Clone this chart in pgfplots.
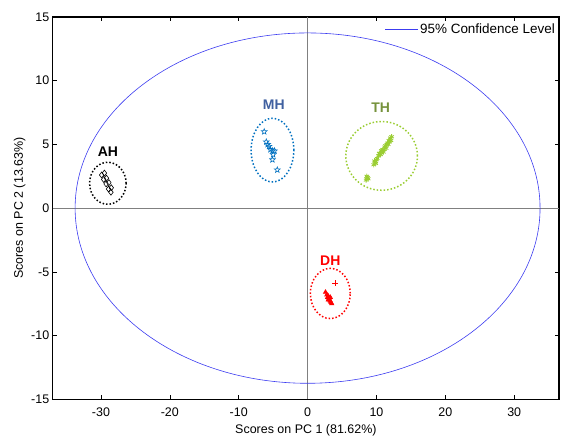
\documentclass[border=0pt]{standalone}
\usepackage{pgfplots}
\pgfplotsset{compat=1.18}
\usepackage{fontspec}
\setmainfont{Liberation Sans}
\definecolor{mhpts}{RGB}{0,112,192}
\definecolor{mhtxt}{RGB}{64,96,160}
\definecolor{thpts}{RGB}{154,205,50}
\definecolor{thtxt}{RGB}{118,146,60}
\definecolor{ellblue}{RGB}{60,60,240}
\pgfdeclareplotmark{ostar}{%
  \pgfpathmoveto{\pgfpointpolar{90}{\pgfplotmarksize}}%
  \pgfpathlineto{\pgfpointpolar{126}{0.42\pgfplotmarksize}}%
  \pgfpathlineto{\pgfpointpolar{162}{\pgfplotmarksize}}%
  \pgfpathlineto{\pgfpointpolar{198}{0.42\pgfplotmarksize}}%
  \pgfpathlineto{\pgfpointpolar{234}{\pgfplotmarksize}}%
  \pgfpathlineto{\pgfpointpolar{270}{0.42\pgfplotmarksize}}%
  \pgfpathlineto{\pgfpointpolar{306}{\pgfplotmarksize}}%
  \pgfpathlineto{\pgfpointpolar{342}{0.42\pgfplotmarksize}}%
  \pgfpathlineto{\pgfpointpolar{18}{\pgfplotmarksize}}%
  \pgfpathlineto{\pgfpointpolar{54}{0.42\pgfplotmarksize}}%
  \pgfpathclose\pgfusepathqstroke}
\begin{document}
\begin{tikzpicture}
\begin{axis}[name=ax,
  scale only axis, width=506bp, height=382bp,
  xmin=-37, xmax=36.5, ymin=-15, ymax=15,
  xtick={-30,-20,...,30}, ytick={-15,-10,...,15},
  tick align=inside, major tick length=4bp,
  xtick pos=both, ytick pos=both,
  axis line style={black, line width=1.2pt},
  tick style={black, line width=0.6pt},
  /pgf/number format/assume math mode=true,
  ticklabel style={font=\fontsize{12.5}{14}\selectfont},
  label style={font=\fontsize{12.5}{14}\selectfont},
  xticklabel style={yshift=-5bp},
  xlabel={Scores on PC 1 (81.62\%)},
  ylabel={Scores on PC 2 (13.63\%)},
  xlabel style={yshift=-1bp},
  ylabel style={yshift=-1bp},
  legend style={draw=none, fill=none, at={(rel axis cs:0.998,0.99)}, anchor=north east, font=\fontsize{13.5}{15}\selectfont, inner sep=1pt},
  legend image code/.code={\draw[#1] (-0.3cm,0cm) -- (0.85cm,0cm);},
  legend cell align=left,
  clip=false,
]
\addlegendimage{ellblue, line width=0.6pt}
\addlegendentry{95\% Confidence Level}
\draw[gray, line width=0.6pt] (axis cs:0,-15) -- (axis cs:0,15);
\draw[gray, line width=0.6pt] (axis cs:-37,0) -- (axis cs:36.5,0);
\draw[ellblue, line width=0.6pt] (axis cs:0,0) ellipse [x radius=33.75, y radius=13.75];
% AH
\addplot[only marks, mark=diamond, mark size=3pt, black, line width=0.6pt] coordinates {
(-29.9,2.6) (-29.5,2.75) (-29.6,2.25) (-29.2,2.35) (-29.25,1.9) (-28.85,2.0) (-28.9,1.5) (-28.5,1.6) (-28.55,1.25)
};
\draw[black, dotted, line width=1.5pt] (axis cs:-29.0,1.95) ellipse [x radius=2.65, y radius=1.65];
\node[font=\fontsize{14}{16}\selectfont\bfseries, black] at (axis cs:-29.0,4.4) {AH};
% MH
\addplot[only marks, mark=ostar, mark size=3pt, mhpts, line width=0.6pt] coordinates {
(-6.3,6.0) (-6.0,5.2) (-5.8,5.0) (-5.6,4.85) (-5.4,4.6) (-5.1,4.5) (-4.8,4.5) (-5.0,4.2) (-5.1,3.8) (-4.4,3.0)
};
\draw[mhpts, dotted, line width=1.5pt] (axis cs:-5.1,4.55) ellipse [x radius=3.1, y radius=2.5];
\node[font=\fontsize{14}{16}\selectfont\bfseries, mhtxt] at (axis cs:-4.9,8.1) {MH};
% TH
\addplot[only marks, mark=asterisk, mark size=2.6pt, thpts, line width=0.8pt] coordinates {
(8.5,2.2) (8.7,2.4) (8.6,2.5) (8.8,2.3) (8.6,2.3)
(9.6,3.4) (9.8,3.6) (9.9,3.5) (10.0,3.8) (9.7,3.7) (10.1,3.9)
(10.3,4.1) (10.5,4.3) (10.6,4.2) (10.8,4.5) (10.9,4.6) (11.0,4.4) (11.2,4.8) (11.3,4.9)
(11.5,5.0) (11.6,5.1) (11.8,5.3) (11.9,5.2) (12.0,5.5) (12.2,5.6) (11.4,4.7) (10.7,4.5)
(11.1,4.6) (11.7,5.0) (12.1,5.3) (10.4,4.3)
};
\draw[thpts, dotted, line width=1.5pt] (axis cs:10.75,4.1) ellipse [x radius=5.2, y radius=2.7];
\node[font=\fontsize{14}{16}\selectfont\bfseries, thtxt] at (axis cs:10.6,7.9) {TH};
% DH
\addplot[only marks, mark=triangle*, mark size=2.5pt, red, line width=0.6pt] coordinates {
(2.6,-6.6) (2.8,-6.8) (2.9,-7.0) (3.0,-6.9) (3.1,-7.1) (3.2,-7.2) (3.3,-7.3) (3.4,-7.4) (3.5,-7.5) (3.0,-7.2) (3.3,-7.0)
};
\addplot[only marks, mark=+, mark size=3pt, color=red, mark options={draw=red, line width=0.9pt}] coordinates {
(4.0,-5.9)
};
\draw[red, dotted, line width=1.5pt] (axis cs:3.3,-6.7) ellipse [x radius=2.9, y radius=1.97];
\node[font=\fontsize{14}{16}\selectfont\bfseries, red] at (axis cs:3.3,-4.1) {DH};
\end{axis}
\pgfresetboundingbox
\path ([shift={(-52.7bp,-40bp)}]ax.south west) rectangle ([shift={(3bp,17bp)}]ax.north east);
\end{tikzpicture}
\end{document}
